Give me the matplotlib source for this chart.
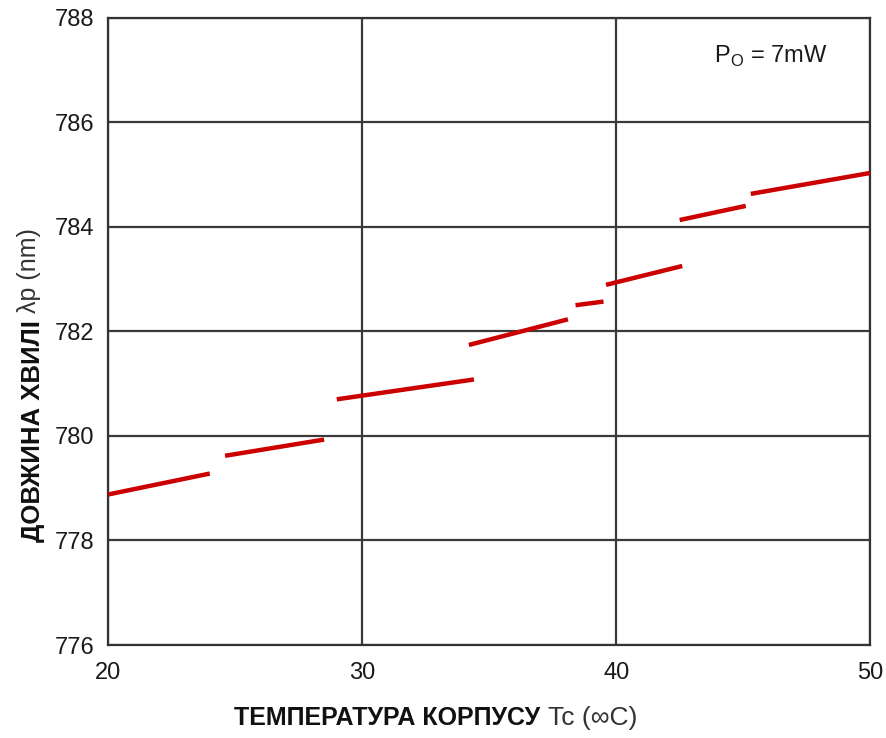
#!/usr/bin/env python3
# Peak wavelength vs case temperature (mode hops), Po = 7mW

import numpy as np
import matplotlib
matplotlib.use('Agg')
import matplotlib.pyplot as plt

plt.rcParams['font.family'] = ['Liberation Sans', 'DejaVu Sans']
plt.rcParams['mathtext.fontset'] = 'custom'
plt.rcParams['mathtext.rm'] = 'Liberation Sans'

# segments: (T start, T end), (lambda start, lambda end)
seg_t = [(20.0, 24.0), (24.6, 28.5), (29.0, 34.4), (34.2, 38.1),
         (38.4, 39.5), (39.6, 42.6), (42.5, 45.1), (45.3, 50.0)]
seg_wl = [(778.88, 779.28), (779.62, 779.93), (780.70, 781.08), (781.74, 782.23),
          (782.50, 782.57), (782.89, 783.25), (784.13, 784.40), (784.63, 785.03)]

xticks = [20, 30, 40, 50]
yticks = [776, 778, 780, 782, 784, 786, 788]

fig = plt.figure(figsize=(8.87, 7.38), dpi=100)
ax = fig.add_axes([0.122, 0.126, 0.859, 0.850])

for t, wl in zip(seg_t, seg_wl):
    ax.plot(t, wl, color='#cc0000', lw=3.2, solid_capstyle='butt', zorder=3)

ax.set_xlim(20, 50)
ax.set_ylim(776, 788)
ax.set_xticks(xticks)
ax.set_yticks(yticks)
ax.grid(True, color='#3a3a3a', lw=1.6)
ax.tick_params(length=0, labelsize=17, labelcolor='#1a1a1a')
ax.tick_params(axis='y', pad=10)
ax.tick_params(axis='x', pad=12)
for s in ax.spines.values():
    s.set_color('#333333')
    s.set_linewidth(1.6)

ax.text(0.944, 0.938, r'P$_{\mathrm{O}}$ = 7mW', transform=ax.transAxes,
        ha='right', va='center', fontsize=17, color='#1a1a1a')

# axis labels: bold part + normal part
fig.text(540/887, 0.027, 'ТЕМПЕРАТУРА КОРПУСУ', ha='right', va='center',
         fontsize=18, fontweight='bold', color='#111111')
fig.text(548/887, 0.027, 'Tc (∞C)', ha='left', va='center',
         fontsize=19, color='#333333')
fig.text(33/887, 1 - 542/738, 'ДОВЖИНА ХВИЛІ', rotation=90, ha='center',
         va='bottom', fontsize=18.5, fontweight='bold', color='#111111')
fig.text(29/887, 1 - 313/738, 'λp (nm)', rotation=90, ha='center',
         va='bottom', fontsize=18, color='#333333')

fig.savefig('out.png', dpi=100)
